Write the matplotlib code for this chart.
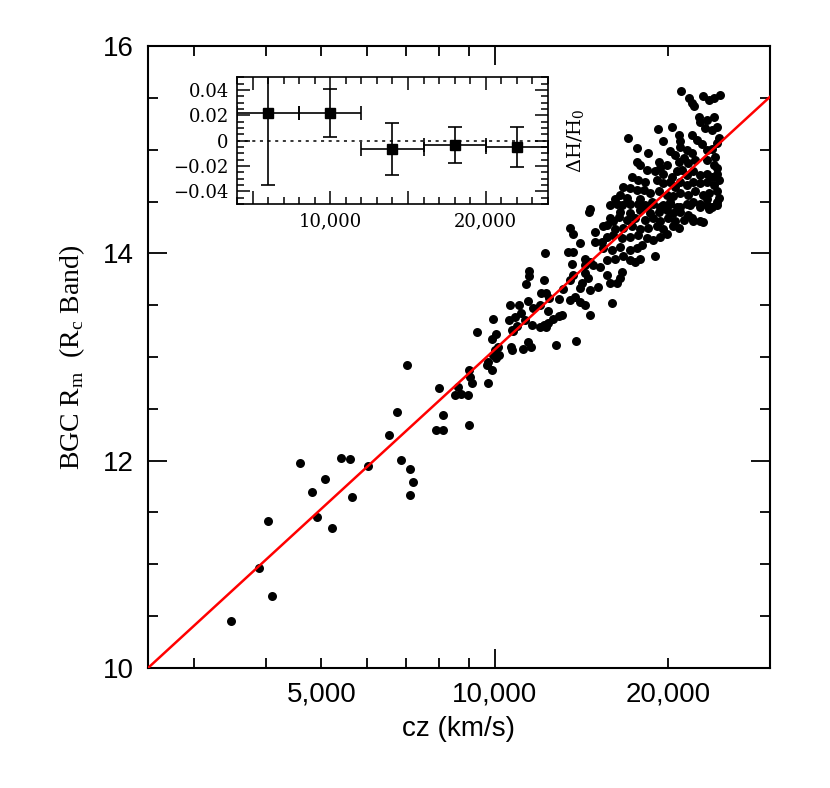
import matplotlib
matplotlib.use('Agg')
import matplotlib.pyplot as plt
from matplotlib.ticker import FixedLocator, FuncFormatter, MultipleLocator

plt.rcParams['font.family'] = ['Liberation Sans', 'DejaVu Sans']
plt.rcParams['mathtext.fontset'] = 'dejavuserif'

# BGC sample: redshift (km/s) and R_c band metric magnitude
cz_kms = [
    7050, 9000, 8000, 8640, 8520, 8720, 8990, 6750, 8130, 6550,
    7890, 8130, 9020, 4590, 5400, 5610, 6010, 6870, 7110, 5070,
    7200, 4820, 5650, 7130, 4040, 4920, 5210, 3890, 4110, 3480,
    # 9,000 - 14,000 km/s
    12200, 11470, 11470, 12180, 11320, 12000, 12260, 12920, 12410, 11430,
    10620, 11020, 11660, 11970, 12350, 11100, 10830, 9930, 10580, 11280,
    12930, 12630, 11580, 11970, 12180, 12380, 12260, 10910, 10690, 10730,
    9290, 10040, 9890, 11430, 11550, 12760, 13830, 10660, 10690, 11200,
    10130, 10000, 10170, 10040, 9930, 9710, 9670, 9870, 9050, 9110,
    9740, 14320, 13100, 14030,
    # lower part of the dense cluster
    14580, 16270, 16930, 17740, 18340, 18830, 19600, 20140, 20680, 21530,
    22100, 22700, 23320, 24270, 16490, 17160, 17860, 18590, 19220, 19870,
    20400, 20960, 21660, 23470, 15840, 16050, 16380, 16930, 17500, 18220,
    18830, 19350, 20000, 20540, 21240, 21960, 22100, 22700, 23000, 13500,
    13680, 14920, 15420, 15630, 16160, 16700, 17270, 17860, 18460, 19090,
    19600, 20400, 20820, 14920, 15320, 15630, 16050, 16600, 17160, 17740,
    18340, 18830, 19350, 19870, 14050, 13410, 13680, 15420, 15950, 16490,
    17160, 17620, 17980, 18960, 13590, 14330, 14620, 14820, 15630, 16160,
    16700, 17160, 17500, 17860, 13680, 13500, 14330, 14520, 14140, 15220,
    15630, 15840, 16270, 16600, 16490, 15120, 14620, 13770, 13500, 14050,
    14330, 14620, 15990, 13060,
    # upper part of the dense cluster
    21010, 21670, 21960, 22160, 23000, 23470, 23940, 24590, 22550, 22700,
    23320, 23940, 23160, 23790, 24270, 19170, 20270, 19560, 20820, 20900,
    20960, 21960, 22400, 22860, 23320, 23790, 24270, 24430, 17000, 17670,
    18460, 20140, 20540, 21530, 21960, 22250, 17620, 17860, 19220, 19870,
    19350, 20820, 21240, 21660, 23320, 24110, 23940, 24270, 18340, 18960,
    19600, 20270, 20680, 21100, 21530, 22100, 22700, 23320, 23790, 24270,
    17280, 17740, 18220, 19090, 19600, 20140, 20540, 20960, 21530, 22100,
    22700, 23320, 23940, 24430, 16700, 17160, 17620, 18100, 18590, 19220,
    19870, 20400, 20960, 21660, 22250, 23000, 23470, 24270, 16490, 16930,
    16160, 16600, 17160, 17860, 18220, 18720, 19350, 20140, 20960, 21810,
    22700, 23320, 23790, 24430, 24270, 14620, 15840,
]
r_mag = [
    12.92, 12.87, 12.70, 12.71, 12.63, 12.64, 12.63, 12.47, 12.44, 12.25,
    12.30, 12.30, 12.34, 11.98, 12.03, 12.02, 11.95, 12.01, 11.92, 11.82,
    11.79, 11.70, 11.65, 11.67, 11.42, 11.46, 11.35, 10.96, 10.69, 10.45,
    14.00, 13.83, 13.78, 13.74, 13.70, 13.62, 13.62, 13.56, 13.57, 13.54,
    13.50, 13.50, 13.47, 13.50, 13.44, 13.42, 13.39, 13.37, 13.36, 13.36,
    13.40, 13.37, 13.31, 13.29, 13.31, 13.33, 13.29, 13.30, 13.26, 13.25,
    13.24, 13.22, 13.17, 13.14, 13.10, 13.12, 13.15, 13.10, 13.07, 13.08,
    13.10, 13.07, 13.02, 12.99, 13.02, 12.95, 12.92, 12.87, 12.81, 12.75,
    12.75, 13.89, 13.66, 13.67,
    14.40, 14.48, 14.50, 14.48, 14.45, 14.48, 14.47, 14.50, 14.45, 14.48,
    14.50, 14.45, 14.47, 14.50, 14.40, 14.39, 14.42, 14.39, 14.40, 14.42,
    14.39, 14.40, 14.37, 14.43, 14.34, 14.31, 14.35, 14.32, 14.34, 14.32,
    14.34, 14.31, 14.34, 14.31, 14.32, 14.34, 14.31, 14.31, 14.30, 14.24,
    14.19, 14.21, 14.26, 14.27, 14.23, 14.24, 14.26, 14.23, 14.24, 14.26,
    14.23, 14.26, 14.24, 14.11, 14.11, 14.16, 14.18, 14.15, 14.16, 14.18,
    14.15, 14.13, 14.16, 14.19, 14.10, 14.01, 14.01, 14.05, 14.03, 14.06,
    14.03, 14.05, 14.08, 13.97, 13.90, 13.95, 13.92, 13.89, 13.94, 13.95,
    13.97, 13.94, 13.92, 13.95, 13.79, 13.74, 13.81, 13.76, 13.71, 13.87,
    13.79, 13.71, 13.71, 13.82, 13.76, 13.68, 13.65, 13.58, 13.55, 13.53,
    13.50, 13.41, 13.52, 13.41,
    15.57, 15.50, 15.45, 15.42, 15.52, 15.48, 15.50, 15.53, 15.32, 15.27,
    15.29, 15.32, 15.21, 15.19, 15.22, 15.20, 15.22, 15.08, 15.14, 15.08,
    15.03, 15.14, 15.09, 15.05, 15.00, 15.01, 15.06, 15.11, 15.11, 15.02,
    14.97, 14.99, 14.95, 15.00, 14.97, 14.90, 14.88, 14.85, 14.88, 14.85,
    14.82, 14.88, 14.92, 14.87, 14.90, 14.93, 14.85, 14.82, 14.80, 14.79,
    14.77, 14.74, 14.79, 14.80, 14.76, 14.79, 14.76, 14.77, 14.74, 14.77,
    14.74, 14.71, 14.69, 14.71, 14.68, 14.69, 14.64, 14.69, 14.66, 14.69,
    14.68, 14.69, 14.66, 14.71, 14.64, 14.63, 14.61, 14.61, 14.58, 14.60,
    14.56, 14.55, 14.58, 14.56, 14.60, 14.56, 14.58, 14.60, 14.56, 14.53,
    14.52, 14.47, 14.48, 14.52, 14.47, 14.50, 14.45, 14.48, 14.45, 14.47,
    14.48, 14.52, 14.45, 14.53, 14.47, 14.43, 14.47,
]

# Hubble-line fit (end points)
fit_cz = [2500, 30000]
fit_mag = [10.0, 15.51]

x_minor_ticks = [3000, 4000, 5000, 6000, 7000, 8000, 9000, 20000]
x_tick_labels = {5000: '5,000', 10000: '10,000', 20000: '20,000'}

# inset: Hubble constant residuals per redshift bin
bin_cz = [6000, 10000, 14000, 18000, 22000]
bin_halfwidth = [2000, 2000, 2000, 2000, 2000]
dH = [0.0215, 0.022, -0.0067, -0.0035, -0.005]
dH_err = [0.0565, 0.019, 0.0204, 0.014, 0.0155]
inset_x_labels = {10000: '10,000', 20000: '20,000'}

fig = plt.figure(figsize=(8.3, 7.88), dpi=100)
ax = fig.add_axes([0.1783, 0.1523, 0.7494, 0.7893])

ax.scatter(cz_kms, r_mag, s=42, color='black', linewidths=0, zorder=2)
ax.plot(fit_cz, fit_mag, color='red', lw=1.8, zorder=3)

ax.set_xscale('log')
ax.set_xlim(2500, 30000)
ax.set_ylim(10, 16)
ax.xaxis.set_major_locator(FixedLocator([10000]))
ax.xaxis.set_minor_locator(FixedLocator(x_minor_ticks))
xfmt = FuncFormatter(lambda v, pos: x_tick_labels.get(int(round(v)), ''))
ax.xaxis.set_major_formatter(xfmt)
ax.xaxis.set_minor_formatter(xfmt)
ax.yaxis.set_major_locator(MultipleLocator(2))
ax.yaxis.set_minor_locator(MultipleLocator(0.5))

ax.tick_params(which='both', direction='in', top=True, right=True,
               width=1.3, labelsize=20, pad=10)
ax.tick_params(which='major', length=14)
ax.tick_params(which='minor', length=7)
for sp in ax.spines.values():
    sp.set_linewidth(1.5)

ax.set_xlabel('cz (km/s)', fontsize=20, labelpad=6)
ax.set_ylabel(r'BGC R$_\mathregular{m}$  (R$_\mathregular{c}$ Band)',
              fontsize=20, family='Liberation Serif')
ax.yaxis.set_label_coords(-0.098, 0.5)

# inset
ax_in = fig.add_axes([0.2855, 0.7411, 0.3747, 0.1608])
ax_in.axhline(0, color='black', lw=1.1, ls=(0, (2, 3)), zorder=1)
ax_in.errorbar(bin_cz, dH, xerr=bin_halfwidth, yerr=dH_err, fmt='s',
               color='black', ms=7.5, capsize=5, elinewidth=1.2,
               capthick=1.2, zorder=3)
ax_in.set_xlim(4000, 24000)
ax_in.set_ylim(-0.05, 0.05)
ax_in.xaxis.set_major_locator(MultipleLocator(5000))
ax_in.xaxis.set_minor_locator(MultipleLocator(1000))
ax_in.yaxis.set_major_locator(MultipleLocator(0.02))
ax_in.yaxis.set_minor_locator(MultipleLocator(0.005))
ax_in.xaxis.set_major_formatter(
    FuncFormatter(lambda v, pos: inset_x_labels.get(int(round(v)), '')))
ax_in.yaxis.set_major_formatter(
    FuncFormatter(lambda v, pos: '0' if abs(v) < 1e-9 else f'{v:.2f}'.replace('-', '\u2212')))
ax_in.tick_params(which='both', direction='in', top=True, right=True,
                  width=1.1, labelsize=13, pad=6)
ax_in.tick_params(which='major', length=9.5)
ax_in.tick_params(which='minor', length=5)
for lab in ax_in.get_xticklabels() + ax_in.get_yticklabels():
    lab.set_family('DejaVu Serif')
for sp in ax_in.spines.values():
    sp.set_linewidth(1.2)
ax_in.yaxis.set_label_position('right')
ax_in.set_ylabel(r'$\Delta$H/H$_0$', fontsize=14, family='DejaVu Serif',
                 labelpad=12)

fig.savefig('out.png', dpi=100)
